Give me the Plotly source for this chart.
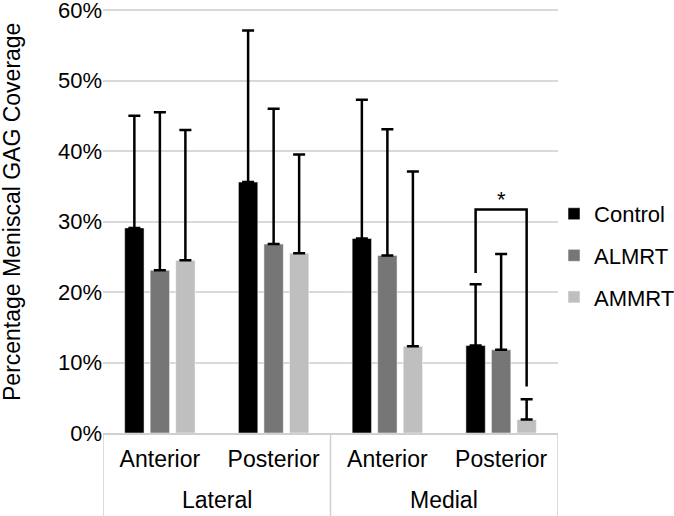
import plotly.graph_objects as go

regions = ["Lateral", "Lateral", "Medial", "Medial"]
locations = ["Anterior", "Posterior", "Anterior", "Posterior"]

control = [0.291, 0.356, 0.276, 0.124]
almrt = [0.231, 0.268, 0.252, 0.118]
ammrt = [0.245, 0.255, 0.123, 0.019]

control_err_top = [0.450, 0.571, 0.473, 0.211]
almrt_err_top = [0.455, 0.460, 0.431, 0.254]
ammrt_err_top = [0.430, 0.395, 0.371, 0.048]

y_ticks = [0, 0.1, 0.2, 0.3, 0.4, 0.5, 0.6]

# significance: Medial Posterior, Control vs AMMRT
sig_category = 3
sig_label = "*"

series = [
    ("Control", control, control_err_top, "#000000"),
    ("ALMRT", almrt, almrt_err_top, "#767676"),
    ("AMMRT", ammrt, ammrt_err_top, "#BFBFBF"),
]

FONT = "Liberation Sans, Arial, sans-serif"
BARGAP = 0.327
BARGROUPGAP = 0.24
idx = list(range(len(locations)))

fig = go.Figure()
for name, vals, tops, color in series:
    fig.add_trace(go.Bar(
        x=idx,
        y=vals,
        name=name,
        legendgroup=name,
        marker=dict(color=color, line=dict(color="white", width=0.5)),
        error_y=dict(
            type="data",
            symmetric=False,
            array=[t - v for t, v in zip(tops, vals)],
            arrayminus=[0] * len(vals),
            color="#000000",
            thickness=2.5,
            width=6,
        ),
    ))

# significance bracket (legs at the Control and AMMRT bar centres)
slot = (1 - BARGAP) / len(series)
x_left = sig_category - slot
x_right = sig_category + slot
top = 0.317
fig.add_shape(type="path",
              path=(f"M {x_left},{control_err_top[sig_category] + 0.016} L {x_left},{top} "
                    f"L {x_right},{top} L {x_right},{ammrt_err_top[sig_category] + 0.018}"),
              xref="x", yref="y", line=dict(color="#000000", width=2.5))
fig.add_annotation(x=sig_category, y=top, xref="x", yref="y", text=sig_label,
                   showarrow=False, yanchor="bottom", yshift=-4,
                   font=dict(family=FONT, size=22, color="#000000"))

# second-level (region) labels and group dividers
bounds = [idx[0] - 0.5]
for i in idx[1:]:
    if regions[i] != regions[i - 1]:
        bounds.append(i - 0.5)
bounds.append(idx[-1] + 0.5)
for b in bounds:
    fig.add_shape(type="line", x0=b, x1=b, y0=0, y1=-0.2, xref="x", yref="paper",
                  line=dict(color="#D0D0D0", width=1.5))
for a, b in zip(bounds[:-1], bounds[1:]):
    fig.add_annotation(x=(a + b) / 2, y=-0.157, xref="x", yref="paper",
                       text=regions[int(a + 0.5)], showarrow=False,
                       xanchor="center", yanchor="middle",
                       font=dict(family=FONT, size=23, color="#000000"))

# y-axis title
fig.add_annotation(x=-0.2, y=0.52, xref="paper", yref="paper",
                   xanchor="center", yanchor="middle", textangle=-90,
                   text="Percentage Meniscal GAG Coverage", showarrow=False,
                   font=dict(family=FONT, size=23, color="#000000"))

fig.update_layout(
    width=674, height=516,
    margin=dict(l=103, r=116, t=7.5, b=82.7, autoexpand=False),
    paper_bgcolor="white", plot_bgcolor="white",
    barmode="group",
    bargap=BARGAP, bargroupgap=BARGROUPGAP,
    font=dict(family=FONT, size=22, color="#000000"),
    showlegend=True,
    legend=dict(xref="container", yref="container",
                x=0.822, xanchor="left", y=0.505, yanchor="middle",
                font=dict(family=FONT, size=22, color="#000000"),
                tracegroupgap=10, bgcolor="rgba(0,0,0,0)"),
    yaxis=dict(range=[0, 0.603], tickvals=y_ticks,
               tickformat=".0%", showgrid=True, gridcolor="#D9D9D9", gridwidth=1.5,
               zeroline=False, showline=False, ticks="", automargin=False,
               ticklabeloverflow="allow",
               tickfont=dict(family=FONT, size=22)),
    xaxis=dict(range=[bounds[0], bounds[-1]], tickvals=idx, ticktext=locations,
               showline=True, linecolor="#D0D0D0", linewidth=1.5,
               ticks="", ticklabelstandoff=5, automargin=False,
               tickfont=dict(family=FONT, size=23), showgrid=False, zeroline=False),
)

fig.write_html("out.html", config={"displayModeBar": False},
               post_script="document.body.style.margin='0';")
